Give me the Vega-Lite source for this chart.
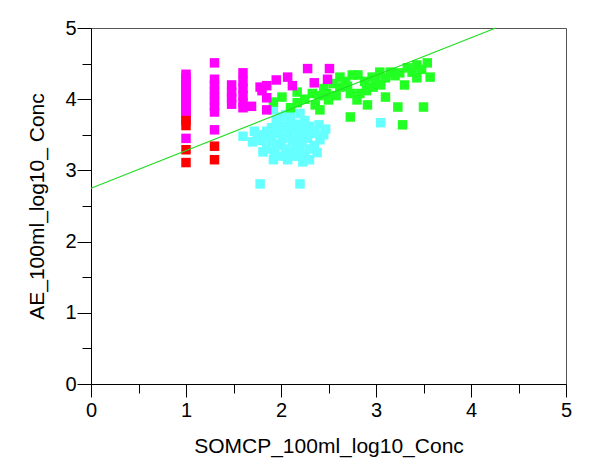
{
  "$schema": "https://vega.github.io/schema/vega-lite/v6.json",
  "autosize": {"type": "none"},
  "padding": {"left": 91, "top": 28, "right": 23, "bottom": 86},
  "width": 475,
  "height": 356,
  "background": "white",
  "config": {
    "view": {"stroke": "#555555", "strokeWidth": 1},
    "font": "Liberation Sans",
    "axis": {"grid": false, "domainColor": "#000000", "tickColor": "#000000", "labelColor": "#000000", "titleColor": "#000000", "labelFont": "Liberation Sans", "titleFont": "Liberation Sans", "labelFontSize": 20, "titleFontSize": 21, "titleFontWeight": "normal", "labelFlush": false}
  },
  "resolve": {"axis": {"x": "independent", "y": "independent"}},
  "datasets": {
    "pts": [
      {"x": 1.0, "y": 3.63, "g": "red"}, {"x": 1.0, "y": 3.7, "g": "red"}, {"x": 1.0, "y": 3.29, "g": "red"}, {"x": 1.0, "y": 3.11, "g": "red"}, {"x": 1.3, "y": 3.34, "g": "red"}, {"x": 1.3, "y": 3.15, "g": "red"},

      {"x": 1.0, "y": 4.35, "g": "magenta"}, {"x": 1.0, "y": 4.3, "g": "magenta"}, {"x": 1.0, "y": 4.25, "g": "magenta"}, {"x": 1.0, "y": 4.2, "g": "magenta"}, {"x": 1.0, "y": 4.15, "g": "magenta"}, {"x": 1.0, "y": 4.1, "g": "magenta"}, {"x": 1.0, "y": 4.05, "g": "magenta"}, {"x": 1.0, "y": 4.0, "g": "magenta"}, {"x": 1.0, "y": 3.95, "g": "magenta"}, {"x": 1.0, "y": 3.9, "g": "magenta"}, {"x": 1.0, "y": 3.85, "g": "magenta"}, {"x": 1.0, "y": 3.8, "g": "magenta"}, {"x": 1.0, "y": 3.76, "g": "magenta"}, {"x": 1.0, "y": 3.45, "g": "magenta"},
      {"x": 1.3, "y": 4.51, "g": "magenta"}, {"x": 1.3, "y": 4.28, "g": "magenta"}, {"x": 1.3, "y": 4.2, "g": "magenta"}, {"x": 1.3, "y": 4.12, "g": "magenta"}, {"x": 1.3, "y": 4.05, "g": "magenta"}, {"x": 1.3, "y": 3.98, "g": "magenta"}, {"x": 1.3, "y": 3.9, "g": "magenta"}, {"x": 1.3, "y": 3.82, "g": "magenta"}, {"x": 1.3, "y": 3.57, "g": "magenta"},
      {"x": 1.48, "y": 4.2, "g": "magenta"}, {"x": 1.48, "y": 4.1, "g": "magenta"}, {"x": 1.48, "y": 4.02, "g": "magenta"}, {"x": 1.48, "y": 3.93, "g": "magenta"},
      {"x": 1.6, "y": 4.37, "g": "magenta"}, {"x": 1.6, "y": 4.25, "g": "magenta"}, {"x": 1.6, "y": 4.15, "g": "magenta"}, {"x": 1.6, "y": 4.05, "g": "magenta"}, {"x": 1.6, "y": 3.95, "g": "magenta"}, {"x": 1.6, "y": 3.88, "g": "magenta"},
      {"x": 1.69, "y": 3.9, "g": "magenta"}, {"x": 1.78, "y": 4.17, "g": "magenta"}, {"x": 1.8, "y": 4.12, "g": "magenta"}, {"x": 1.85, "y": 4.19, "g": "magenta"}, {"x": 1.85, "y": 4.02, "g": "magenta"}, {"x": 1.85, "y": 3.85, "g": "magenta"}, {"x": 1.95, "y": 4.27, "g": "magenta"}, {"x": 2.07, "y": 4.31, "g": "magenta"}, {"x": 2.12, "y": 4.19, "g": "magenta"}, {"x": 2.28, "y": 4.43, "g": "magenta"}, {"x": 2.35, "y": 4.23, "g": "magenta"}, {"x": 2.49, "y": 4.28, "g": "magenta"}, {"x": 2.51, "y": 4.43, "g": "magenta"},

      {"x": 1.78, "y": 2.81, "g": "cyan"}, {"x": 2.2, "y": 2.81, "g": "cyan"}, {"x": 3.05, "y": 3.67, "g": "cyan"}, {"x": 1.6, "y": 3.48, "g": "cyan"}, {"x": 1.92, "y": 3.15, "g": "cyan"}, {"x": 2.3, "y": 3.15, "g": "cyan"},
      {"x": 1.7, "y": 3.4, "g": "cyan"}, {"x": 1.81, "y": 3.26, "g": "cyan"}, {"x": 1.75, "y": 3.5, "g": "cyan"}, {"x": 1.85, "y": 3.55, "g": "cyan"}, {"x": 1.9, "y": 3.6, "g": "cyan"}, {"x": 1.95, "y": 3.7, "g": "cyan"}, {"x": 2.0, "y": 3.75, "g": "cyan"}, {"x": 2.05, "y": 3.78, "g": "cyan"}, {"x": 2.1, "y": 3.72, "g": "cyan"}, {"x": 2.15, "y": 3.65, "g": "cyan"}, {"x": 2.2, "y": 3.6, "g": "cyan"}, {"x": 2.25, "y": 3.7, "g": "cyan"}, {"x": 2.3, "y": 3.62, "g": "cyan"}, {"x": 2.35, "y": 3.55, "g": "cyan"}, {"x": 2.4, "y": 3.64, "g": "cyan"}, {"x": 2.41, "y": 3.43, "g": "cyan"}, {"x": 2.35, "y": 3.35, "g": "cyan"}, {"x": 2.3, "y": 3.3, "g": "cyan"}, {"x": 2.25, "y": 3.22, "g": "cyan"}, {"x": 2.2, "y": 3.28, "g": "cyan"}, {"x": 2.15, "y": 3.35, "g": "cyan"}, {"x": 2.1, "y": 3.25, "g": "cyan"}, {"x": 2.05, "y": 3.3, "g": "cyan"}, {"x": 2.0, "y": 3.2, "g": "cyan"}, {"x": 1.95, "y": 3.35, "g": "cyan"}, {"x": 1.9, "y": 3.42, "g": "cyan"}, {"x": 1.85, "y": 3.3, "g": "cyan"}, {"x": 1.8, "y": 3.42, "g": "cyan"}, {"x": 1.88, "y": 3.48, "g": "cyan"}, {"x": 1.95, "y": 3.52, "g": "cyan"}, {"x": 2.02, "y": 3.45, "g": "cyan"}, {"x": 2.08, "y": 3.5, "g": "cyan"}, {"x": 2.12, "y": 3.42, "g": "cyan"}, {"x": 2.18, "y": 3.48, "g": "cyan"}, {"x": 2.22, "y": 3.4, "g": "cyan"}, {"x": 2.28, "y": 3.45, "g": "cyan"}, {"x": 2.32, "y": 3.52, "g": "cyan"}, {"x": 2.38, "y": 3.25, "g": "cyan"}, {"x": 2.12, "y": 3.58, "g": "cyan"}, {"x": 2.05, "y": 3.62, "g": "cyan"}, {"x": 1.98, "y": 3.58, "g": "cyan"}, {"x": 2.26, "y": 3.56, "g": "cyan"}, {"x": 2.0, "y": 3.38, "g": "cyan"}, {"x": 2.16, "y": 3.2, "g": "cyan"}, {"x": 1.93, "y": 3.25, "g": "cyan"}, {"x": 2.45, "y": 3.5, "g": "cyan"}, {"x": 2.47, "y": 3.58, "g": "cyan"}, {"x": 1.72, "y": 3.55, "g": "cyan"}, {"x": 2.07, "y": 3.15, "g": "cyan"}, {"x": 2.23, "y": 3.12, "g": "cyan"}, {"x": 1.92, "y": 3.85, "g": "cyan"}, {"x": 2.1, "y": 3.82, "g": "cyan"}, {"x": 2.2, "y": 3.8, "g": "cyan"},

      {"x": 2.01, "y": 4.03, "g": "green"}, {"x": 1.92, "y": 3.96, "g": "green"}, {"x": 2.17, "y": 4.1, "g": "green"}, {"x": 2.17, "y": 3.95, "g": "green"}, {"x": 2.33, "y": 4.08, "g": "green"}, {"x": 2.36, "y": 3.92, "g": "green"}, {"x": 2.48, "y": 4.08, "g": "green"}, {"x": 2.5, "y": 3.99, "g": "green"}, {"x": 2.62, "y": 4.31, "g": "green"}, {"x": 2.75, "y": 4.34, "g": "green"}, {"x": 2.81, "y": 4.34, "g": "green"}, {"x": 2.62, "y": 4.17, "g": "green"}, {"x": 2.73, "y": 4.08, "g": "green"}, {"x": 2.83, "y": 4.08, "g": "green"}, {"x": 2.96, "y": 4.31, "g": "green"}, {"x": 2.97, "y": 4.17, "g": "green"}, {"x": 2.8, "y": 3.99, "g": "green"}, {"x": 3.04, "y": 4.38, "g": "green"}, {"x": 3.15, "y": 4.38, "g": "green"}, {"x": 3.25, "y": 4.37, "g": "green"}, {"x": 3.3, "y": 4.2, "g": "green"}, {"x": 3.43, "y": 4.3, "g": "green"}, {"x": 3.54, "y": 4.51, "g": "green"}, {"x": 3.57, "y": 4.31, "g": "green"}, {"x": 3.1, "y": 4.03, "g": "green"}, {"x": 2.91, "y": 3.92, "g": "green"}, {"x": 3.23, "y": 3.89, "g": "green"}, {"x": 3.5, "y": 3.89, "g": "green"}, {"x": 2.73, "y": 3.75, "g": "green"}, {"x": 3.28, "y": 3.64, "g": "green"}, {"x": 2.41, "y": 3.85, "g": "green"}, {"x": 3.43, "y": 4.48, "g": "green"}, {"x": 3.33, "y": 4.44, "g": "green"}, {"x": 2.55, "y": 4.22, "g": "green"}, {"x": 2.68, "y": 4.25, "g": "green"}, {"x": 2.88, "y": 4.25, "g": "green"}, {"x": 3.0, "y": 4.27, "g": "green"}, {"x": 3.1, "y": 4.3, "g": "green"}, {"x": 3.2, "y": 4.33, "g": "green"}, {"x": 2.45, "y": 4.15, "g": "green"}, {"x": 2.25, "y": 4.0, "g": "green"}, {"x": 2.1, "y": 3.88, "g": "green"}, {"x": 2.58, "y": 4.05, "g": "green"}, {"x": 3.38, "y": 4.38, "g": "green"}, {"x": 3.48, "y": 4.42, "g": "green"}, {"x": 2.9, "y": 4.12, "g": "green"}, {"x": 3.05, "y": 4.2, "g": "green"}, {"x": 2.7, "y": 4.18, "g": "green"}, {"x": 2.4, "y": 4.05, "g": "green"}
    ],
    "fit": [{"x": 0, "y": 2.75}, {"x": 4.26, "y": 5.0}]
  },
  "layer": [
    {
      "data": {"name": "pts"},
      "mark": {"type": "square", "size": 90, "opacity": 1, "filled": true},
      "encoding": {
        "x": {"field": "x", "type": "quantitative", "scale": {"domain": [0, 5], "nice": false, "zero": false},
          "axis": {"orient": "bottom", "title": "SOMCP_100ml_log10_Conc", "values": [0, 1, 2, 3, 4, 5], "format": "d", "tickSize": 13, "labelPadding": 3, "titlePadding": 15}},
        "y": {"field": "y", "type": "quantitative", "scale": {"domain": [0, 5], "nice": false, "zero": false},
          "axis": {"orient": "left", "title": "AE_100ml_log10_ Conc", "values": [0, 1, 2, 3, 4, 5], "format": "d", "tickSize": 14, "labelPadding": 1, "titlePadding": 17}},
        "color": {"field": "g", "type": "nominal", "legend": null,
          "scale": {"domain": ["red", "magenta", "cyan", "green"], "range": ["#ff0000", "#ff00ff", "#66ffff", "#22ff22"]}},
        "order": {"field": "g", "sort": "ascending"}
      }
    },
    {
      "data": {"name": "fit"},
      "mark": {"type": "line", "color": "#22dd22", "strokeWidth": 1.2},
      "encoding": {
        "x": {"field": "x", "type": "quantitative",
          "axis": {"orient": "bottom", "title": null, "values": [0.5, 1.5, 2.5, 3.5, 4.5], "labels": false, "domain": false, "tickSize": 9}},
        "y": {"field": "y", "type": "quantitative",
          "axis": {"orient": "left", "title": null, "values": [0.5, 1.5, 2.5, 3.5, 4.5], "labels": false, "domain": false, "tickSize": 9}}
      }
    }
  ]
}
